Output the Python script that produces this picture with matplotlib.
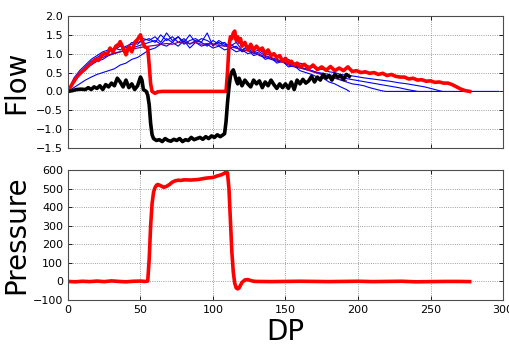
import matplotlib
matplotlib.use("Agg")
import matplotlib.pyplot as plt
import numpy as np

# ---------------- Flow (top panel) ----------------
red_flow_x = [0, 3, 6, 9, 12, 15, 17, 19, 21, 23, 25, 27, 29, 31, 33, 35, 36, 38, 40, 42, 44, 46, 48, 50, 51, 53, 55,
              56, 57, 58, 60, 62, 65, 80, 100, 109, 110, 111, 112, 113, 114, 115, 116, 117, 118, 119, 120, 122, 124,
              126, 128, 130, 132, 134, 136, 138, 140, 142, 144, 146, 148, 150, 152, 154, 156, 158, 160, 163, 166,
              169, 172, 175, 178, 181, 184, 187, 190, 193, 196, 199, 202, 205, 208, 211, 214, 217, 220, 223, 226,
              229, 232, 235, 238, 241, 244, 247, 250, 253, 256, 259, 262, 265, 268, 271, 274, 277]
red_flow_y = [0, 0.2, 0.38, 0.5, 0.6, 0.72, 0.78, 0.85, 0.82, 0.95, 1.0, 0.98, 1.15, 1.05, 1.2, 1.25, 1.32, 1.15, 0.97,
              1.2, 1.05, 1.3, 1.38, 1.5, 1.35, 1.18, 1.15,
              0.7, 0.2, 0.0, -0.05, -0.01, 0.0, 0.0, 0.0, 0.0, 0.5, 1.2, 1.45, 1.4, 1.55, 1.6, 1.35, 1.45, 1.3, 1.4,
              1.2, 1.3, 1.1, 1.25, 1.1, 1.2, 1.1, 1.15, 1.0, 1.1, 0.95, 1.0, 0.9, 0.95, 0.8, 0.88, 0.75, 0.8, 0.7,
              0.75, 0.65, 0.72, 0.6, 0.7, 0.58, 0.65, 0.56, 0.66, 0.55, 0.62, 0.55, 0.65, 0.53, 0.55, 0.5, 0.52,
              0.48, 0.5, 0.45, 0.48, 0.42, 0.45, 0.4, 0.38, 0.38, 0.33, 0.35, 0.3, 0.31, 0.27, 0.28, 0.24, 0.25,
              0.22, 0.22, 0.18, 0.12, 0.06, 0.02, 0.0]

black_flow_x = [0, 3, 6, 9, 12, 14, 16, 18, 20, 22, 24, 26, 28, 30, 32, 34, 36, 38, 40, 42, 44, 46, 48, 50, 51, 52, 54,
                55, 56, 57, 58, 59, 61, 63, 65, 67, 69, 71, 73, 75, 77, 79, 81, 83, 85, 87, 89, 91, 93, 95, 97, 99,
                101, 103, 105, 107, 108, 109, 110, 111, 112, 113, 114, 115, 116, 117, 118, 120, 122, 124, 126, 128,
                130, 132, 134, 136, 138, 140, 142, 144, 146, 148, 150, 152, 154, 156, 158, 160, 162, 164, 166, 168,
                170, 172, 174, 176, 178, 180, 182, 184, 186, 188, 190, 192, 194]
black_flow_y = [0, 0.02, 0.05, 0.06, 0.05, 0.1, 0.05, 0.12, 0.08, 0.15, 0.05, 0.18, 0.12, 0.22, 0.15, 0.35, 0.25, 0.12,
                0.3, 0.1, 0.2, 0.05, 0.15, 0.38, 0.3, 0.05, 0.0,
                -0.1, -0.35, -0.85, -1.15, -1.25, -1.3, -1.28, -1.33, -1.25, -1.3, -1.32, -1.27, -1.3, -1.25, -1.33,
                -1.28, -1.3, -1.22, -1.28, -1.25, -1.22, -1.27, -1.2, -1.25, -1.18, -1.22, -1.15, -1.2, -1.15, -1.12,
                -0.8, -0.3, 0.1, 0.4, 0.52, 0.57, 0.45, 0.3, 0.2, 0.35, 0.15, 0.3, 0.2, 0.12, 0.3, 0.2, 0.28, 0.1,
                0.25, 0.15, 0.3, 0.18, 0.08, 0.2, 0.1, 0.2, 0.08, 0.25, 0.05, 0.3, 0.2, 0.32, 0.22, 0.28, 0.4, 0.25,
                0.38, 0.3, 0.45, 0.35, 0.42, 0.3, 0.45, 0.38, 0.42, 0.32, 0.45, 0.4]

blue_x_base = [0, 4, 8, 12, 16, 20, 24, 28, 32, 36, 40, 44, 48, 52, 56, 60, 64, 68, 72, 76, 80, 84, 88, 92, 96, 100,
               104, 108, 112, 116, 120, 124, 128, 132, 136, 140, 144, 148, 152, 156, 160, 164, 168, 172, 176, 180,
               184, 188, 192]

blue1_x = blue_x_base + [194]
blue1_y = [0, 0.3, 0.5, 0.65, 0.8, 0.9, 1.0, 1.05, 1.15, 1.1, 1.2, 1.25, 1.3, 1.35, 1.4, 1.3, 1.5, 1.35, 1.45, 1.3,
           1.4, 1.25, 1.35, 1.3, 1.2, 1.35, 1.25, 1.3, 1.15, 1.2, 1.05, 1.1, 0.95, 1.0, 0.85, 0.9, 0.75, 0.8, 0.65,
           0.68, 0.55, 0.5, 0.45, 0.38, 0.35, 0.25, 0.2, 0.12, 0.05, 0.0]

blue2_x = blue_x_base + [196, 200, 204, 208, 212, 216, 219, 240]
blue2_y = [0, 0.35, 0.55, 0.7, 0.85, 0.95, 1.05, 1.1, 1.1, 1.2, 1.15, 1.3, 1.25, 1.4, 1.35, 1.45, 1.3, 1.55, 1.35,
           1.45, 1.3, 1.5, 1.3, 1.4, 1.35, 1.25, 1.3, 1.2, 1.25, 1.15, 1.1, 1.15, 1.0, 1.05, 0.95, 0.9, 0.85, 0.8,
           0.75, 0.7, 0.65, 0.6, 0.55, 0.5, 0.45, 0.4, 0.35, 0.3, 0.25,
           0.2, 0.18, 0.15, 0.1, 0.06, 0.02, 0.0, 0.0]

blue3_x = blue_x_base + [198, 204, 210, 216, 222, 228, 234, 241, 258]
blue3_y = [0, 0.1, 0.2, 0.3, 0.38, 0.45, 0.5, 0.55, 0.6, 0.7, 0.75, 0.85, 0.9, 1.0, 1.1, 1.15, 1.25, 1.2, 1.3, 1.2,
           1.35, 1.15, 1.3, 1.2, 1.25, 1.15, 1.2, 1.1, 1.15, 1.05, 1.1, 1.0, 1.05, 0.95, 0.9, 0.85, 0.8, 0.78, 0.7,
           0.65, 0.62, 0.58, 0.55, 0.5, 0.48, 0.45, 0.4, 0.37, 0.34,
           0.3, 0.26, 0.22, 0.18, 0.14, 0.1, 0.05, 0.0, 0.0]

blue4_x = blue_x_base + [198, 204, 210, 216, 222, 228, 234, 240, 246, 252, 258, 297]
blue4_y = [0, 0.25, 0.45, 0.6, 0.7, 0.8, 0.85, 0.95, 1.0, 1.05, 1.1, 1.15, 1.2, 1.25, 1.3, 1.35, 1.25, 1.4, 1.3,
           1.45, 1.25, 1.35, 1.4, 1.3, 1.55, 1.2, 1.35, 1.25, 1.2, 1.3, 1.1, 1.2, 1.05, 1.1, 1.0, 0.95, 0.95, 0.85,
           0.85, 0.75, 0.75, 0.7, 0.65, 0.6, 0.58, 0.52, 0.5, 0.45, 0.43,
           0.4, 0.36, 0.33, 0.3, 0.27, 0.23, 0.2, 0.16, 0.12, 0.06, 0.0, 0.0]

purple_x = blue_x_base
purple_y = [0, 0.25, 0.45, 0.6, 0.72, 0.82, 0.9, 0.97, 1.02, 1.05, 1.1, 1.12, 1.15, 1.18, 1.2, 1.22, 1.25, 1.27,
            1.25, 1.3, 1.28, 1.27, 1.3, 1.25, 1.27, 1.25, 1.22, 1.2, 1.18, 1.15, 1.1, 1.08, 1.02, 0.98, 0.93, 0.88,
            0.83, 0.78, 0.73, 0.68, 0.63, 0.58, 0.53, 0.48, 0.44, 0.4, 0.36, 0.32, 0.28]

# ---------------- Pressure (bottom panel) ----------------
pres_x = [0, 5, 10, 15, 20, 25, 30, 35, 40, 45, 50, 53, 55, 56, 57, 58, 59, 60, 61, 62, 64, 66, 68, 70, 72, 74, 76,
          78, 80, 85, 90, 95, 100, 103, 106, 108, 109, 110, 111, 112, 113, 114, 115, 116, 117, 118, 119, 120, 122,
          124, 126, 128, 130, 140, 150, 160, 170, 180, 190, 200, 210, 220, 230, 240, 250, 260, 270, 277]
pres_y = [0, -2, 1, -1, 2, -1, 3, 0, -2, 1, 2, 0, 2, 120, 300, 420, 480, 505, 518, 522, 515, 507, 512, 522, 535, 542,
          545, 544, 547, 546, 549, 556, 560, 568, 575, 583, 590, 585, 500, 330, 160, 50, -10, -35, -40, -35, -20,
          -5, 8, 10, 5, 1, 0, -1, 0, 1, 0, -1, 0, 1, -1, 0, 1, -2, -1, 0, 0, -1]

flow_ticks = [-1.5, -1.0, -0.5, 0.0, 0.5, 1.0, 1.5, 2.0]
pres_ticks = [-100, 0, 100, 200, 300, 400, 500, 600]
dp_ticks = [0, 50, 100, 150, 200, 250, 300]

fig = plt.figure(figsize=(5.1, 3.46), dpi=100)
fig.patch.set_facecolor("white")
ax1 = fig.add_axes([0.1333, 0.5723, 0.853, 0.3815])
ax2 = fig.add_axes([0.1333, 0.1329, 0.853, 0.3758])

for bx, by in [(blue1_x, blue1_y), (blue2_x, blue2_y), (blue3_x, blue3_y), (blue4_x, blue4_y)]:
    ax1.plot(bx, by, color="blue", lw=0.8)
ax1.plot(purple_x, purple_y, color="#800080", lw=0.9)
ax1.plot(red_flow_x, red_flow_y, color="red", lw=2.6)
ax1.plot(black_flow_x, black_flow_y, color="black", lw=2.6)

ax2.plot(pres_x, pres_y, color="red", lw=2.6)

for ax in (ax1, ax2):
    ax.set_xlim(0, 300)
    ax.set_xticks(dp_ticks)
    ax.grid(True, linestyle=":", color="0.5", lw=0.6)
    ax.tick_params(direction="in", labelsize=8, top=True, right=True, length=3, width=0.6)
    for s in ax.spines.values():
        s.set_linewidth(0.8)
        s.set_color("0.3")

ax1.set_ylim(-1.5, 2.0)
ax1.set_yticks(flow_ticks)
ax1.set_yticklabels(["\u22121.5", "\u22121.0", "\u22120.5", "0.0", "0.5", "1.0", "1.5", "2.0"])
ax1.tick_params(labelbottom=False)
ax1.set_ylabel("Flow", fontsize=20, labelpad=4)

ax2.set_ylim(-100, 600)
ax2.set_yticks(pres_ticks)
ax2.set_ylabel("Pressure", fontsize=20, labelpad=2)
ax2.set_xlabel("DP", fontsize=20, labelpad=2)

fig.savefig("out.png", dpi=100)
